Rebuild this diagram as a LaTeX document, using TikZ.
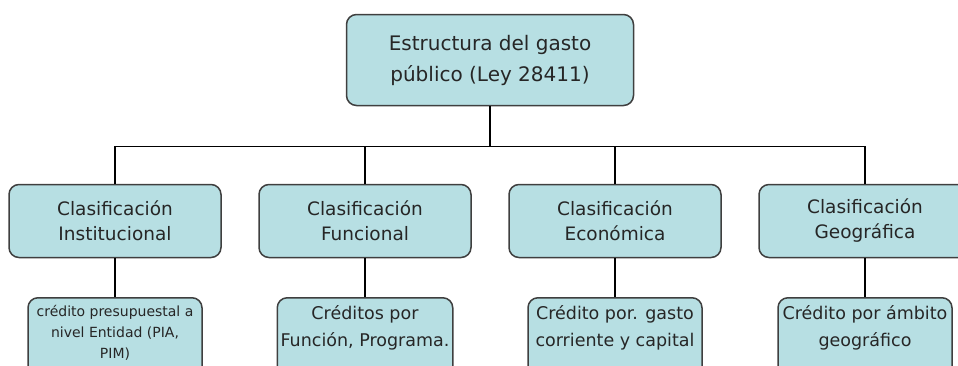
\documentclass[tikz,border=0pt]{standalone}
\usepackage{fontspec}
\setmainfont{DejaVu Sans}
\usepackage{tikz}

\definecolor{boxfill}{HTML}{B7DFE3}
\definecolor{boxline}{HTML}{3F3F3F}

\begin{document}
\begin{tikzpicture}[x=1pt,y=1pt,
  box/.style={rectangle,draw=boxline,line width=1.5pt,fill=boxfill,rounded corners=10pt,align=center,text=black!85},
  clasif/.style={box,minimum width=212pt,minimum height=73pt,font=\fontsize{18.5}{25}\selectfont},
  credito/.style={box,anchor=north,minimum width=174pt,inner ysep=8pt,text depth=70pt,font=\fontsize{17.5}{27}\selectfont},
  edge from parent/.style={draw,black,line width=1.5pt},
  level 1/.style={sibling distance=250pt,level distance=161pt,
    edge from parent path={(\tikzparentnode.south) -- ++(0,-40pt) -| (\tikzchildnode.north)}},
  level 2/.style={level distance=76pt,
    edge from parent path={(\tikzparentnode.south) -- (\tikzchildnode.north)}}]
\useasboundingbox (0,0) rectangle (958,-365);
\clip (0,0) rectangle (958,-365);
\node [box,minimum width=287pt,minimum height=91pt,font=\fontsize{20}{31}\selectfont] (gasto) at (490,-60) {Estructura del gasto\\público (Ley 28411)}
  child {node[clasif] (inst) {Clasificación\\Institucional}
    child {node[credito,font=\fontsize{14}{21}\selectfont] (instcred) {crédito presupuestal a\\nivel Entidad (PIA,\\PIM)}}}
  child {node[clasif] (func) {Clasificación\\Funcional}
    child {node[credito] (funccred) {Créditos por\\Función, Programa.}}}
  child {node[clasif] (econ) {Clasificación\\Económica}
    child {node[credito] (econcred) {Crédito por. gasto\\corriente y capital}}}
  child {node[clasif] (geo) {Clasificación\\Geográfica}
    child {node[credito] (geocred) {Crédito por ámbito\\geográfico}}}
;
\end{tikzpicture}
\end{document}
